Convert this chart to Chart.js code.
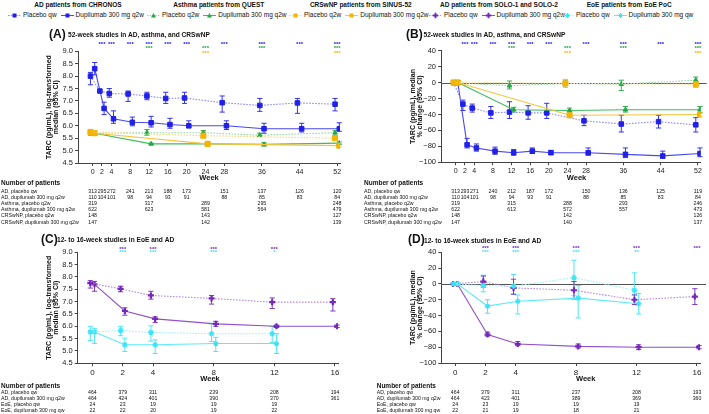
<!DOCTYPE html>
<html>
<head>
<meta charset="utf-8">
<script src="https://cdn.jsdelivr.net/npm/chart.js@4.4.0/dist/chart.umd.min.js"></script>
<style>
  body { margin:0; background:#fff; width:709px; height:414px; position:relative; overflow:hidden;
         font-family:"Liberation Sans", Arial, sans-serif; color:#111; }
  canvas { position:absolute; }
  .grp { position:absolute; top:0; text-align:center; white-space:nowrap; }
  .hd { font-weight:bold; font-size:6.5px; line-height:8px; margin-top:1px; }
  .row { font-size:6.5px; line-height:8px; margin-top:2px; display:flex; align-items:center; }
  .row svg { margin:0 2px 0 0; }
  .row span { margin-right:4px; }
</style>
</head>
<body>
<div id="legend"></div>
<canvas id="cA" width="354" height="200" style="left:0;top:28px"></canvas>
<canvas id="cB" width="355" height="200" style="left:354px;top:28px"></canvas>
<canvas id="cC" width="354" height="186" style="left:0;top:228px"></canvas>
<canvas id="cD" width="355" height="186" style="left:354px;top:228px"></canvas>
<script>
const FONT = '"Liberation Sans", Arial, sans-serif';

// ---- x ticks ----
const WEEK_TICKS_52 = [0, 2, 4, 8, 12, 16, 20, 24, 28, 36, 44, 52];
const WEEK_TICKS_16 = [0, 2, 4, 8, 12, 16];

// ---- visit weeks per study ----
const AD52_WEEKS   = [0, 2, 4, 8, 12, 16, 20, 28, 36, 44, 52];
const ASTHMA_WEEKS = [0, 12, 24, 36, 52];
const CRS_WEEKS    = [0, 24, 52];
const AD16_WEEKS   = [0, 2, 4, 8, 12, 16];
const EOE_WEEKS    = [0, 2, 4, 8, 12];

// ---- (A) log-transformed median ----
const A_AD_PBO     = [8.0, 7.4, 7.3, 7.28, 7.2, 7.1, 7.12, 6.93, 6.82, 6.92, 6.87];
const A_AD_PBO_LO  = [7.65, 7.35, 7.15, 6.98, 7.05, 6.9, 6.9, 6.55, 6.58, 6.5, 6.6];
const A_AD_PBO_HI  = [8.15, 7.45, 7.5, 7.4, 7.35, 7.35, 7.35, 7.2, 7.1, 7.1, 7.1];
const A_AD_DUP     = [8.3, 6.7, 6.28, 6.14, 6.12, 6.05, 6.0, 6.0, 5.88, 5.88, 5.88];
const A_AD_DUP_LO  = [8.05, 6.45, 6.1, 6.0, 5.95, 5.9, 5.92, 5.85, 5.7, 5.75, 5.78];
const A_AD_DUP_HI  = [8.55, 6.95, 6.6, 6.35, 6.38, 6.3, 6.2, 6.2, 6.1, 6.1, 6.12];
const A_AST_PBO    = [5.7, 5.72, 5.72, 5.62, 5.72];
const A_AST_PBO_LO = [5.62, 5.62, 5.62, 5.57, 5.62];
const A_AST_PBO_HI = [5.78, 5.85, 5.8, 5.7, 5.8];
const A_AST_DUP    = [5.7, 5.27, 5.27, 5.25, 5.3];
const A_AST_DUP_LO = [5.62, 5.24, 5.22, 5.18, 5.25];
const A_AST_DUP_HI = [5.78, 5.3, 5.32, 5.32, 5.35];
const A_CRS_PBO    = [5.75, 5.6, 5.5];
const A_CRS_PBO_LO = [5.65, 5.52, 5.45];
const A_CRS_PBO_HI = [5.82, 5.8, 5.6];
const A_CRS_DUP    = [5.7, 5.27, 5.2];
const A_CRS_DUP_LO = [5.62, 5.18, 5.15];
const A_CRS_DUP_HI = [5.78, 5.35, 5.28];

// ---- (B) median % change ----
const B_AD_PBO     = [0, -27, -32, -38, -37, -38, -38, -48, -52, -49, -53];
const B_AD_PBO_LO  = [0, -35, -37, -45, -45, -46, -45, -54, -62, -57, -62];
const B_AD_PBO_HI  = [0, -22, -27, -30, -24, -29, -26, -41, -41, -41, -44];
const B_AD_DUP     = [0, -78, -82, -86, -88, -86, -88, -88, -90, -92, -89];
const B_AD_DUP_LO  = [0, -82, -86, -90, -91, -89, -90, -91, -94, -95, -93];
const B_AD_DUP_HI  = [0, -70, -77, -81, -84, -82, -85, -82, -82, -86, -82];
const B_AST_PBO    = [0, -4, -1, -2, 3];
const B_AST_PBO_LO = [0, -8, -4, -10, -2];
const B_AST_PBO_HI = [0, 2, 2, 3, 7];
const B_AST_DUP    = [0, -34, -35, -34, -34];
const B_AST_DUP_LO = [0, -37, -38, -37, -38];
const B_AST_DUP_HI = [0, -31, -32, -30, -30];
const B_CRS_PBO    = [0, -1, -2];
const B_CRS_PBO_LO = [0, -6, -6];
const B_CRS_PBO_HI = [0, 4, 2];
const B_CRS_DUP    = [0, -41, -40];
const B_CRS_DUP_LO = [0, -43, -43];
const B_CRS_DUP_HI = [0, -38, -37];

// ---- (C) log-transformed median ----
const C_AD_PBO     = [7.75, 7.52, 7.25, 7.13, 6.98, 6.98];
const C_AD_PBO_LO  = [7.55, 7.4, 7.1, 6.9, 6.72, 6.62];
const C_AD_PBO_HI  = [7.85, 7.62, 7.42, 7.25, 7.15, 7.12];
const C_AD_DUP     = [7.7, 6.62, 6.3, 6.1, 6.0, 6.0];
const C_AD_DUP_LO  = [7.42, 6.45, 6.15, 6.0, 5.95, 5.95];
const C_AD_DUP_HI  = [7.82, 6.75, 6.38, 6.2, 6.05, 6.05];
const C_EOE_PBO    = [5.77, 5.83, 5.75, 5.7, 5.7];
const C_EOE_PBO_LO = [5.42, 5.62, 5.4, 5.38, 5.35];
const C_EOE_PBO_HI = [6.0, 6.0, 6.02, 6.1, 6.0];
const C_EOE_DUP    = [5.77, 5.25, 5.25, 5.3, 5.3];
const C_EOE_DUP_LO = [5.3, 4.98, 4.9, 4.98, 4.9];
const C_EOE_DUP_HI = [5.92, 5.52, 5.45, 5.55, 5.7];

// ---- (D) median % change ----
const D_AD_PBO     = [0, 3, -5, -8, -20, -16];
const D_AD_PBO_LO  = [0, -4, -13, -19, -26, -26];
const D_AD_PBO_HI  = [0, 10, 6, 3, -14, -6];
const D_AD_DUP     = [0, -64, -76, -79, -80, -80];
const D_AD_DUP_LO  = [0, -66, -78, -81, -83, -82];
const D_AD_DUP_HI  = [0, -61, -73, -76, -77, -78];
const D_EOE_PBO    = [0, -2, -3, 8, -8];
const D_EOE_PBO_LO = [0, -10, -13, -15, -13];
const D_EOE_PBO_HI = [0, 11, 12, 30, 14];
const D_EOE_DUP    = [0, -28, -22, -18, -25];
const D_EOE_DUP_LO = [0, -37, -38, -43, -38];
const D_EOE_DUP_HI = [0, -20, -14, -2, -12];

// ---- significance marks: [week, text] ----
const SIG_AD52   = [[2,'***'],[4,'***'],[8,'***'],[12,'***'],[16,'***'],[20,'***'],[28,'***'],[36,'***'],[44,'***'],[52,'***']];
const SIG_ASTHMA = [[12,'***'],[24,'***'],[36,'***'],[52,'***']];
const SIG_CRS    = [[24,'***'],[52,'***']];
const SIG_C_AD   = [[2,'***'],[4,'***'],[8,'***'],[12,'***']];
const SIG_C_EOE  = [[2,'***'],[4,'***'],[8,'***'],[12,'*']];
const SIG_D_AD   = [[2,'***'],[4,'***'],[8,'***'],[12,'***'],[16,'***']];
const SIG_D_EOE  = [[2,'***'],[4,'***'],[8,'***'],[12,'**']];

// ---- number of patients ----
const ROWS_52 = ['AD, placebo qw', 'AD, dupilumab 300 mg q2w', 'Asthma, placebo q2w',
                 'Asthma, dupilumab 300 mg q2w', 'CRSwNP, placebo q2w', 'CRSwNP, dupilumab 300 mg q2w'];
const ROWS_16 = ['AD, placebo qw', 'AD, dupilumab 300 mg q2w', 'EoE, placebo qw', 'EoE, dupilumab 300 mg qw'];
const N_A = [
  [313, 295, 272, 241, 213, 188, 173, 151, 137, 126, 120],
  [110, 104, 101, 98, 94, 93, 91, 88, 85, 83, 84],
  [319, 317, 289, 295, 248],
  [622, 623, 581, 564, 479],
  [148, 143, 127],
  [147, 142, 139]
];
const N_B = [
  [313, 293, 271, 240, 212, 187, 172, 150, 136, 125, 119],
  [110, 104, 101, 98, 94, 93, 91, 88, 85, 83, 84],
  [319, 315, 288, 293, 246],
  [622, 613, 572, 557, 473],
  [148, 142, 126],
  [147, 140, 137]
];
const N_C = [
  [464, 379, 311, 239, 208, 194],
  [464, 424, 401, 390, 370, 361],
  [24, 23, 19, 19, 19],
  [22, 22, 20, 19, 22]
];
const N_D = [
  [464, 379, 311, 237, 208, 193],
  [464, 423, 401, 389, 369, 360],
  [24, 23, 19, 19, 19],
  [22, 21, 19, 18, 21]
];

// ---- styles ----
const COL = { blue:'#2020e8', green:'#22a846', gold:'#f4b400', purple:'#7428b8', cyan:'#3ce4f6' };
const STY = {
  blueP:   { mark:COL.blue,   line:'#8c8cf6', dash:[1.6,1.4], shape:'rect',     r:3.2, bw:1 },
  blueD:   { mark:COL.blue,   line:'#4848f0', dash:[],        shape:'rect',     r:3.2, bw:1 },
  greenP:  { mark:COL.green,  line:'#8fdca2', dash:[1.6,1.4], shape:'triangle', r:2.6, bw:1 },
  greenD:  { mark:COL.green,  line:'#3cbc5e', dash:[],        shape:'triangle', r:2.6, bw:1 },
  goldP:   { mark:COL.gold,   line:'#fbd77c', dash:[1.6,1.4], shape:'rect',     r:3.6, bw:1 },
  goldD:   { mark:COL.gold,   line:'#f7c43c', dash:[],        shape:'rect',     r:3.6, bw:1 },
  purpleP: { mark:COL.purple, line:'#b48adf', dash:[1.6,1.4], shape:'cross',    r:3,   bw:2.2 },
  purpleD: { mark:COL.purple, line:'#9050cc', dash:[],        shape:'cross',    r:3,   bw:2.2 },
  cyanP:   { mark:COL.cyan,   line:'#9ef0fa', dash:[1.6,1.4], shape:'star',     r:2.8, bw:1.3 },
  cyanD:   { mark:COL.cyan,   line:'#5ee9f8', dash:[],        shape:'star',     r:2.8, bw:1.3 }
};

function series(weeks, vals, lo, hi, dodge, s) {
  return {
    data: weeks.map((w, i) => ({ x: w + dodge, y: vals[i] })),
    errLo: lo, errHi: hi, errColor: s.mark,
    borderColor: s.line, borderWidth: 1.1, borderDash: s.dash,
    pointStyle: s.shape, pointRadius: s.r, pointBorderWidth: s.bw,
    pointBackgroundColor: s.mark, pointBorderColor: s.mark,
    tension: 0, fill: false
  };
}

// error bars, zero line, titles, stars and patient tables
const extras = {
  id: 'extras',
  beforeDatasetsDraw(chart, args, o) {
    const { ctx, chartArea: ca, scales: { x, y } } = chart;
    ctx.save();
    if (o.zeroLine) {
      const y0 = Math.round(y.getPixelForValue(0)) + 0.5;
      ctx.strokeStyle = '#555'; ctx.lineWidth = 1.1;
      ctx.beginPath(); ctx.moveTo(ca.left, y0); ctx.lineTo(ca.right + 6, y0); ctx.stroke();
    }
    chart.data.datasets.forEach((ds, i) => {
      const meta = chart.getDatasetMeta(i);
      ctx.strokeStyle = ds.errColor; ctx.lineWidth = 0.9;
      meta.data.forEach((pt, j) => {
        const lo = y.getPixelForValue(ds.errLo[j]), hi = y.getPixelForValue(ds.errHi[j]);
        if (Math.abs(lo - hi) < 1) return;
        ctx.beginPath();
        ctx.moveTo(pt.x, lo); ctx.lineTo(pt.x, hi);
        ctx.moveTo(pt.x - 2.6, lo); ctx.lineTo(pt.x + 2.6, lo);
        ctx.moveTo(pt.x - 2.6, hi); ctx.lineTo(pt.x + 2.6, hi);
        ctx.stroke();
      });
    });
    ctx.restore();
  },
  afterDraw(chart, args, o) {
    const { ctx, chartArea: ca, scales: { x } } = chart;
    ctx.save();
    ctx.fillStyle = '#111';
    ctx.textAlign = 'left'; ctx.textBaseline = 'alphabetic';
    ctx.font = `bold 12px ${FONT}`;
    ctx.fillText(o.letter, o.letterX, o.titleY);
    ctx.font = `bold 6.6px ${FONT}`;
    ctx.fillText(o.title, o.titleX, o.titleY - 0.5);

    // y title
    ctx.font = `bold 7px ${FONT}`;
    ctx.textAlign = 'center'; ctx.textBaseline = 'middle';
    o.yTitle.forEach((line, k) => {
      ctx.save();
      ctx.translate(o.yTitleX[k], (ca.top + ca.bottom) / 2);
      ctx.rotate(-Math.PI / 2);
      ctx.fillText(line, 0, 0);
      ctx.restore();
    });

    // x title
    ctx.font = `bold 7.5px ${FONT}`;
    ctx.fillText('Week', o.weekX, o.weekY);

    // significance
    ctx.font = `bold 6px ${FONT}`;
    o.stars.forEach(row => {
      ctx.fillStyle = row.color;
      row.marks.forEach(([w, t]) => ctx.fillText(t, x.getPixelForValue(w), row.y));
    });

    // patients table
    ctx.fillStyle = '#111';
    ctx.textAlign = 'left';
    ctx.font = `bold 6.5px ${FONT}`;
    ctx.fillText('Number of patients', o.tabX, o.tabY);
    o.rows.forEach((lab, k) => {
      const yy = o.rowY0 + k * o.rowDY;
      ctx.font = `5.2px ${FONT}`;
      ctx.textAlign = 'left';
      ctx.fillText(lab, o.tabX, yy);
      ctx.textAlign = 'center';
      o.counts[k].forEach((n, j) => ctx.fillText(String(n), x.getPixelForValue(o.rowWeeks[k][j]), yy));
    });
    ctx.restore();
  }
};

function makeChart(id, c) {
  return new Chart(document.getElementById(id), {
    type: 'line',
    data: { datasets: c.datasets },
    options: {
      responsive: false, animation: false, devicePixelRatio: 1,
      layout: { padding: c.pad },
      plugins: { legend: { display: false }, tooltip: { enabled: false }, extras: c.extras },
      scales: {
        x: {
          type: 'linear', min: c.xmin, max: c.xmax,
          afterBuildTicks: s => { s.ticks = c.xticks.map(v => ({ value: v })); },
          afterFit: s => { s.height = 18; },
          grid: { drawOnChartArea: false, drawTicks: true, tickLength: 3, color: '#444' },
          border: { display: true, color: '#444', width: 1 },
          ticks: { font: { family: FONT, size: c.xfs }, color: '#222', padding: 2, autoSkip: false, maxRotation: 0 }
        },
        y: {
          min: c.ymin, max: c.ymax,
          afterFit: s => { s.width = c.yw; },
          grid: { drawOnChartArea: false, drawTicks: true, tickLength: 3, color: '#444' },
          border: { display: true, color: '#444', width: 1 },
          ticks: {
            stepSize: c.step, font: { family: FONT, size: 7.5 }, color: '#222', padding: 2,
            callback: c.fmt
          }
        }
      }
    },
    plugins: [extras]
  });
}

const fmtLog = v => v.toFixed(1);
const fmtPct = v => v < 0 ? '\u2212' + Math.abs(v) : String(v);
const D52 = 0.45, D16 = 0.14;

const starsAB = [
  { color: COL.blue,  y: 16,   marks: SIG_AD52 },
  { color: COL.green, y: 20.7, marks: SIG_ASTHMA },
  { color: COL.gold,  y: 25,   marks: SIG_CRS }
];
const rowWeeks52 = [AD52_WEEKS, AD52_WEEKS, ASTHMA_WEEKS, ASTHMA_WEEKS, CRS_WEEKS, CRS_WEEKS];
const rowWeeks16 = [AD16_WEEKS, AD16_WEEKS, EOE_WEEKS, EOE_WEEKS];

makeChart('cA', {
  datasets: [
    series(CRS_WEEKS, A_CRS_PBO, A_CRS_PBO_LO, A_CRS_PBO_HI, -D52, STY.goldP),
    series(CRS_WEEKS, A_CRS_DUP, A_CRS_DUP_LO, A_CRS_DUP_HI, D52, STY.goldD),
    series(ASTHMA_WEEKS, A_AST_PBO, A_AST_PBO_LO, A_AST_PBO_HI, -D52, STY.greenP),
    series(ASTHMA_WEEKS, A_AST_DUP, A_AST_DUP_LO, A_AST_DUP_HI, D52, STY.greenD),
    series(AD52_WEEKS, A_AD_PBO, A_AD_PBO_LO, A_AD_PBO_HI, -D52, STY.blueP),
    series(AD52_WEEKS, A_AD_DUP, A_AD_DUP_LO, A_AD_DUP_HI, D52, STY.blueD)
  ],
  pad: { left: 0, right: 14, top: 23.3, bottom: 47 },
  xmin: -3.1, xmax: 52.6, xticks: WEEK_TICKS_52, xfs: 7,
  ymin: 4.5, ymax: 9.0, step: 0.5, yw: 78, fmt: fmtLog,
  extras: {
    letter: '(A)', letterX: 49, title: '52-week studies in AD, asthma, and CRSwNP', titleX: 68, titleY: 9.5,
    yTitle: ['TARC (pg/mL), log-transformed', 'median (95% CI)'], yTitleX: [49.5, 56],
    weekX: 209, weekY: 150, stars: starsAB,
    tabX: 1, tabY: 155.7, rows: ROWS_52, rowY0: 163.2, rowDY: 6.2, counts: N_A, rowWeeks: rowWeeks52
  }
});

makeChart('cB', {
  datasets: [
    series(CRS_WEEKS, B_CRS_PBO, B_CRS_PBO_LO, B_CRS_PBO_HI, -D52, STY.goldP),
    series(CRS_WEEKS, B_CRS_DUP, B_CRS_DUP_LO, B_CRS_DUP_HI, D52, STY.goldD),
    series(ASTHMA_WEEKS, B_AST_PBO, B_AST_PBO_LO, B_AST_PBO_HI, -D52, STY.greenP),
    series(ASTHMA_WEEKS, B_AST_DUP, B_AST_DUP_LO, B_AST_DUP_HI, D52, STY.greenD),
    series(AD52_WEEKS, B_AD_PBO, B_AD_PBO_LO, B_AD_PBO_HI, -D52, STY.blueP),
    series(AD52_WEEKS, B_AD_DUP, B_AD_DUP_LO, B_AD_DUP_HI, D52, STY.blueD)
  ],
  pad: { left: 0, right: 8.3, top: 22.7, bottom: 47.7 },
  xmin: -3.15, xmax: 52.6, xticks: WEEK_TICKS_52, xfs: 7,
  ymin: -100, ymax: 40, step: 20, yw: 87, fmt: fmtPct,
  extras: {
    zeroLine: true,
    letter: '(B)', letterX: 52, title: '52-week studies in AD, asthma, and CRSwNP', titleX: 69.5, titleY: 9.5,
    yTitle: ['TARC (pg/mL), median', '% change (95% CI)'], yTitleX: [59, 66],
    weekX: 222.5, weekY: 150, stars: starsAB,
    tabX: 10, tabY: 155.7, rows: ROWS_52, rowY0: 163.2, rowDY: 6.2, counts: N_B, rowWeeks: rowWeeks52
  }
});

makeChart('cC', {
  datasets: [
    series(EOE_WEEKS, C_EOE_PBO, C_EOE_PBO_LO, C_EOE_PBO_HI, -D16, STY.cyanP),
    series(EOE_WEEKS, C_EOE_DUP, C_EOE_DUP_LO, C_EOE_DUP_HI, D16, STY.cyanD),
    series(AD16_WEEKS, C_AD_PBO, C_AD_PBO_LO, C_AD_PBO_HI, -D16, STY.purpleP),
    series(AD16_WEEKS, C_AD_DUP, C_AD_DUP_LO, C_AD_DUP_HI, D16, STY.purpleD)
  ],
  pad: { left: 0, right: 16, top: 24.3, bottom: 32.7 },
  xmin: -0.97, xmax: 16.2, xticks: WEEK_TICKS_16, xfs: 8,
  ymin: 4.5, ymax: 9.0, step: 0.5, yw: 77.7, fmt: fmtLog,
  extras: {
    letter: '(C)', letterX: 41, title: '12- to 16-week studies in EoE and AD', titleX: 57, titleY: 14.5,
    yTitle: ['TARC (pg/mL), log-transformed', 'median (95% CI)'], yTitleX: [49.5, 56],
    weekX: 210, weekY: 151.3,
    stars: [{ color: COL.purple, y: 21, marks: SIG_C_AD }, { color: COL.cyan, y: 24.3, marks: SIG_C_EOE }],
    tabX: 1, tabY: 158, rows: ROWS_16, rowY0: 164.6, rowDY: 5.95, counts: N_C, rowWeeks: rowWeeks16
  }
});

makeChart('cD', {
  datasets: [
    series(EOE_WEEKS, D_EOE_PBO, D_EOE_PBO_LO, D_EOE_PBO_HI, -D16, STY.cyanP),
    series(EOE_WEEKS, D_EOE_DUP, D_EOE_DUP_LO, D_EOE_DUP_HI, D16, STY.cyanD),
    series(AD16_WEEKS, D_AD_PBO, D_AD_PBO_LO, D_AD_PBO_HI, -D16, STY.purpleP),
    series(AD16_WEEKS, D_AD_DUP, D_AD_DUP_LO, D_AD_DUP_HI, D16, STY.purpleD)
  ],
  pad: { left: 0, right: 9, top: 24.3, bottom: 33 },
  xmin: -0.92, xmax: 16.2, xticks: WEEK_TICKS_16, xfs: 8,
  ymin: -100, ymax: 40, step: 20, yw: 87.3, fmt: fmtPct,
  extras: {
    zeroLine: true,
    letter: '(D)', letterX: 54, title: '12- to 16-week studies in EoE and AD', titleX: 70, titleY: 15,
    yTitle: ['TARC (pg/mL), median', '% change (95% CI)'], yTitleX: [59, 66],
    weekX: 231.7, weekY: 151.3,
    stars: [{ color: COL.purple, y: 20.7, marks: SIG_D_AD }, { color: COL.cyan, y: 24, marks: SIG_D_EOE }],
    tabX: 22.7, tabY: 158, rows: ROWS_16, rowY0: 164.6, rowDY: 5.95, counts: N_D, rowWeeks: rowWeeks16
  }
});

// ---- shared legend ----
const LEGEND = [
  { head: 'AD patients from CHRONOS', pbo: 'Placebo qw', dup: 'Dupilumab 300 mg q2w', p: 'blueP', d: 'blueD', left: 8 },
  { head: 'Asthma patients from QUEST', pbo: 'Placebo q2w', dup: 'Dupilumab 300 mg q2w', p: 'greenP', d: 'greenD', left: 147 },
  { head: 'CRSwNP patients from SINUS-52', pbo: 'Placebo q2w', dup: 'Dupilumab 300 mg q2w', p: 'goldP', d: 'goldD', left: 289 },
  { head: 'AD patients from SOLO-1 and SOLO-2', pbo: 'Placebo qw', dup: 'Dupilumab 300 mg q2w', p: 'purpleP', d: 'purpleD', left: 429 },
  { head: 'EoE patients from EoE PoC', pbo: 'Placebo qw', dup: 'Dupilumab 300 mg qw', p: 'cyanP', d: 'cyanD', left: 561 }
];

function markerSvg(s) {
  const c = s.mark;
  const dash = s.dash.length ? 'stroke-dasharray="1.5,1.2"' : '';
  let m = '';
  if (s.shape === 'rect') m = `<rect x="4.5" y="1.5" width="4" height="4" fill="${c}"/>`;
  else if (s.shape === 'triangle') m = `<polygon points="6.5,1 9,5.6 4,5.6" fill="${c}"/>`;
  else if (s.shape === 'cross') m = `<path d="M6.5 0.8v5.4M3.8 3.5h5.4" stroke="${c}" stroke-width="1.8"/>`;
  else m = `<path d="M6.5 1v5M4 3.5h5M4.7 1.7l3.6 3.6M8.3 1.7l-3.6 3.6" stroke="${c}" stroke-width="1"/>`;
  return `<svg width="13" height="7" viewBox="0 0 13 7"><line x1="0" y1="3.5" x2="13" y2="3.5" stroke="${s.line}" stroke-width="1" ${dash}/>${m}</svg>`;
}

const leg = document.getElementById('legend');
LEGEND.forEach(g => {
  const div = document.createElement('div');
  div.className = 'grp';
  div.style.left = g.left + 'px';
  div.innerHTML = `<div class="hd">${g.head}</div>
    <div class="row">${markerSvg(STY[g.p])}<span>${g.pbo}</span>${markerSvg(STY[g.d])}<span>${g.dup}</span></div>`;
  leg.appendChild(div);
});
</script>
</body>
</html>
